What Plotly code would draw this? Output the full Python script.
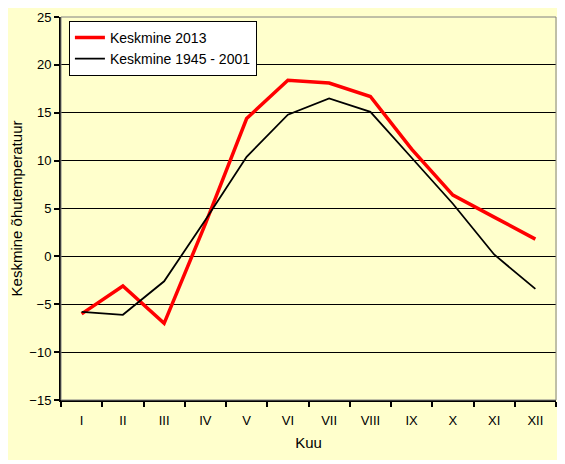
import plotly.graph_objects as go

# monthly mean air temperature
months = ["I", "II", "III", "IV", "V", "VI", "VII", "VIII", "IX", "X", "XI", "XII"]
temp_2013 = [-6.0, -3.1, -7.0, 3.4, 14.4, 18.4, 18.1, 16.7, 11.2, 6.4, 4.1, 1.8]
temp_1945_2001 = [-5.8, -6.1, -2.6, 3.8, 10.4, 14.8, 16.5, 15.1, 10.3, 5.5, 0.2, -3.4]
y_ticks = [-15, -10, -5, 0, 5, 10, 15, 20, 25]

BG = "#FFFFCC"
FONT = "Liberation Sans, Arial, sans-serif"

fig = go.Figure()

fig.add_trace(go.Scatter(
    x=months, y=temp_2013, mode="lines", name="Keskmine 2013",
    line=dict(color="#FF0000", width=3.5)
))
fig.add_trace(go.Scatter(
    x=months, y=temp_1945_2001, mode="lines", name="Keskmine 1945 - 2001",
    line=dict(color="#000000", width=1.8)
))

# yellow chart area (page margin gives the white frame top/left),
# gray border on the plot area
fig.add_shape(type="rect", xref="paper", yref="paper", layer="below",
              x0=-0.11, x1=1.008, y0=-0.1567, y1=1.03,
              fillcolor=BG, line=dict(width=0))
fig.add_shape(type="rect", xref="paper", yref="paper", layer="above",
              x0=0, x1=1, y0=0, y1=1,
              line=dict(color="#808080", width=1))

fig.update_layout(
    width=557, height=456,
    margin=dict(l=53, r=9, t=9, b=64),
    paper_bgcolor="white",
    plot_bgcolor=BG,
    font=dict(family=FONT, size=13, color="black"),
    showlegend=True,
    legend=dict(
        x=0.016, y=0.99, xanchor="left", yanchor="top",
        bgcolor="white", bordercolor="black", borderwidth=1,
        font=dict(size=14), tracegroupgap=0, itemwidth=30,
    ),
    xaxis=dict(
        type="category", range=[-0.5, 11.5], automargin=False,
        showline=True, linecolor="black", linewidth=2,
        ticks="outside", tickson="boundaries", ticklen=5,
        tickcolor="black", tickwidth=2, ticklabelstandoff=7,
        showgrid=False, zeroline=False,
        title=dict(text="Kuu", font=dict(size=15), standoff=11),
    ),
    yaxis=dict(
        range=[-15, 25], tickvals=y_ticks, automargin=False,
        showline=True, linecolor="black", linewidth=2,
        ticks="outside", ticklen=5, tickcolor="black", tickwidth=2,
        showgrid=True, gridcolor="black", gridwidth=1,
        zeroline=False,
        title=dict(text="Keskmine õhutemperatuur", font=dict(size=15), standoff=6),
    ),
)

fig.write_html("out.html")
